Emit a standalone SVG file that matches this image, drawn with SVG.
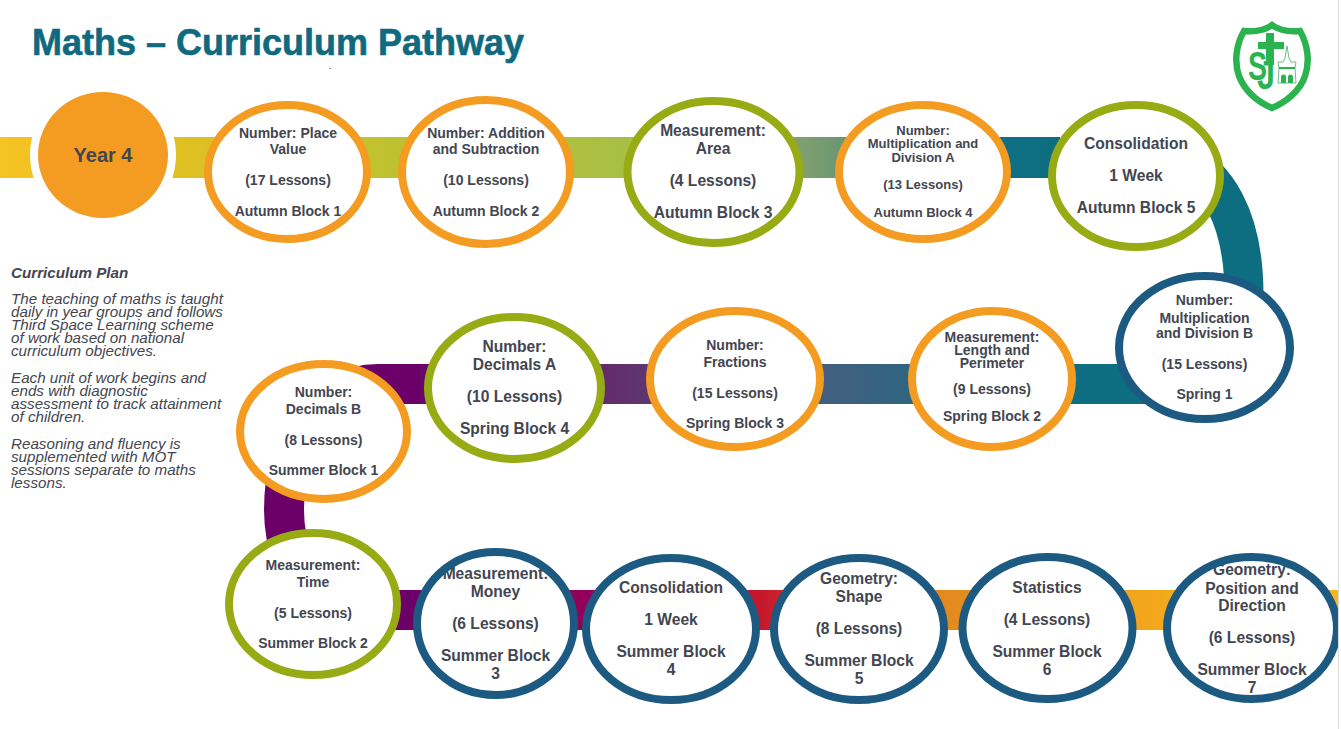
<svg xmlns="http://www.w3.org/2000/svg" width="1341" height="729" viewBox="0 0 1341 729">
<style>
.bg{fill:#fff}
.band{fill:none;stroke-width:40}
.hole{fill:#fff}
.ring{fill:none;stroke-width:8}
.o{stroke:#f39c21}
.g{stroke:#97ab14}
.b{stroke:#1d5a82}
text{font-family:"Liberation Sans",Arial,sans-serif;fill:#434650;font-weight:700;text-anchor:middle}
.s12{font-size:13px}
.s14{font-size:14px}
.s16{font-size:15.6px}
.plan{font-style:italic;font-weight:400;text-anchor:start;font-size:15.2px}
</style>
<defs>
<linearGradient id="g1" gradientUnits="userSpaceOnUse" x1="0" y1="0" x2="1060" y2="0">
<stop offset="0" stop-color="#f5c322"/><stop offset="0.2" stop-color="#dcc023"/><stop offset="0.4" stop-color="#b9c232"/><stop offset="0.6" stop-color="#a8bf45"/><stop offset="0.76" stop-color="#7e9f70"/><stop offset="0.95" stop-color="#0f6e83"/><stop offset="1" stop-color="#0d6e82"/>
</linearGradient>
<linearGradient id="g2" gradientUnits="userSpaceOnUse" x1="380" y1="0" x2="1130" y2="0">
<stop offset="0" stop-color="#6a0068"/><stop offset="0.3" stop-color="#642c6c"/><stop offset="0.6" stop-color="#41607f"/><stop offset="0.9" stop-color="#0d6e82"/><stop offset="1" stop-color="#0d6e82"/>
</linearGradient>
<linearGradient id="g3" gradientUnits="userSpaceOnUse" x1="400" y1="0" x2="1340" y2="0">
<stop offset="0" stop-color="#6a0068"/><stop offset="0.2" stop-color="#94005a"/><stop offset="0.38" stop-color="#c5152c"/><stop offset="0.58" stop-color="#e38a20"/><stop offset="0.85" stop-color="#f6ae1c"/><stop offset="1" stop-color="#f6b81c"/>
</linearGradient>
</defs>
<rect class="bg" width="1341" height="729"/>
<text x="32" y="55" style="font-size:36px;text-anchor:start;fill:#0f6a80;stroke:#0f6a80;stroke-width:.6">Maths – Curriculum Pathway</text>
<rect x="329" y="68" width="2" height="1" fill="#999"/>
<g id="logo">
<path d="M1272 25C1264 31 1252 32 1244 31C1236 45 1234 62 1239 76C1245 91 1258 102 1272 108C1286 102 1300 91 1305 76C1310 62 1308 45 1300 31C1292 32 1280 31 1272 25Z" fill="#fff" stroke="#2bb34f" stroke-width="6.500"/>
<rect x="1266" y="33" width="8" height="32" fill="#2bb34f"/><rect x="1258" y="42" width="26" height="7" fill="#2bb34f"/>
<text x="1248" y="80" textLength="19" lengthAdjust="spacingAndGlyphs" style="font-size:40px;fill:#2bb34f;text-anchor:start">S</text>
<text x="1257" y="89" textLength="18" lengthAdjust="spacingAndGlyphs" style="font-size:40px;fill:#2bb34f;text-anchor:start">J</text>
<path d="M1287 46L1289 58L1291 62L1296 62L1295 68L1296 83L1278 83L1279 68L1278 62L1283 62L1285 58Z" fill="#fff" stroke="#4aa86a" stroke-width=".8"/>
<path d="M1279 67H1295V69H1279ZM1281 83V77A2.500 2.500 0 0 1 1286 77V83ZM1288 83V77A2.500 2.500 0 0 1 1293 77V83Z" fill="#2bb34f"/>
</g>
<g id="connectors">
<path class="band" d="M0 157.500H1060" stroke="url(#g1)" style="stroke-width:41"/>
<path class="band" d="M1180 157.500C1215 175 1244 215 1244 295" stroke="#0d6e82" style="stroke-width:39"/>
<path class="band" d="M1165 384H380" stroke="url(#g2)"/>
<path class="band" d="M420 384H378C320 384 284 440 284 510C284 530 288 545 292 560" stroke="#6a0068"/>
<path class="band" d="M385 610H1340" stroke="url(#g3)"/>
</g>
<g id="year4"><circle cx="103" cy="155" r="73" fill="#fff"/><ellipse cx="103" cy="155" rx="65" ry="63" fill="#f39c21"/><text x="103" y="162" style="font-size:20px">Year 4</text></g>
<g id="autumn1"><ellipse class="hole" cx="287.500" cy="172" rx="79.500" ry="67"/><text class="s14"><tspan x="288" y="138">Number: Place</tspan><tspan x="288" y="154">Value</tspan><tspan x="288" y="185">(17 Lessons)</tspan><tspan x="288" y="216">Autumn Block 1</tspan></text><ellipse class="ring o" cx="287.500" cy="172" rx="79.500" ry="67"/></g>
<g id="autumn2"><ellipse class="hole" cx="486" cy="172" rx="84" ry="72"/><text class="s14"><tspan x="486" y="138">Number: Addition</tspan><tspan x="486" y="154">and Subtraction</tspan><tspan x="486" y="185">(10 Lessons)</tspan><tspan x="486" y="216">Autumn Block 2</tspan></text><ellipse class="ring o" cx="486" cy="172" rx="84" ry="72"/></g>
<g id="autumn3"><ellipse class="hole" cx="713.500" cy="172" rx="86" ry="71"/><text class="s16"><tspan x="713" y="136">Measurement:</tspan><tspan x="713" y="154">Area</tspan><tspan x="713" y="186">(4 Lessons)</tspan><tspan x="713" y="218">Autumn Block 3</tspan></text><ellipse class="ring g" cx="713.500" cy="172" rx="86" ry="71"/></g>
<g id="autumn4"><ellipse class="hole" cx="923" cy="172" rx="84" ry="67"/><text class="s12"><tspan x="923" y="135">Number:</tspan><tspan x="923" y="148">Multiplication and</tspan><tspan x="923" y="162">Division A</tspan><tspan x="923" y="189">(13 Lessons)</tspan><tspan x="923" y="217">Autumn Block 4</tspan></text><ellipse class="ring o" cx="923" cy="172" rx="84" ry="67"/></g>
<g id="autumn5"><ellipse class="hole" cx="1136" cy="176" rx="84" ry="71"/><text class="s16"><tspan x="1136" y="149">Consolidation</tspan><tspan x="1136" y="181">1 Week</tspan><tspan x="1136" y="213">Autumn Block 5</tspan></text><ellipse class="ring g" cx="1136" cy="176" rx="84" ry="71"/></g>
<g id="spring1"><ellipse class="hole" cx="1204.500" cy="347.500" rx="85.500" ry="71.500"/><text class="s14"><tspan x="1204.500" y="305">Number:</tspan><tspan x="1204.500" y="323">Multiplication</tspan><tspan x="1204.500" y="338">and Division B</tspan><tspan x="1204.500" y="369">(15 Lessons)</tspan><tspan x="1204.500" y="399">Spring 1</tspan></text><ellipse class="ring b" cx="1204.500" cy="347.500" rx="85.500" ry="71.500"/></g>
<g id="spring2"><ellipse class="hole" cx="992" cy="379" rx="80" ry="68"/><text class="s14"><tspan x="992" y="342">Measurement:</tspan><tspan x="992" y="355">Length and</tspan><tspan x="992" y="368">Perimeter</tspan><tspan x="992" y="394">(9 Lessons)</tspan><tspan x="992" y="421">Spring Block 2</tspan></text><ellipse class="ring o" cx="992" cy="379" rx="80" ry="68"/></g>
<g id="spring3"><ellipse class="hole" cx="735" cy="379" rx="85" ry="68"/><text class="s14"><tspan x="735" y="350">Number:</tspan><tspan x="735" y="367">Fractions</tspan><tspan x="735" y="398">(15 Lessons)</tspan><tspan x="735" y="428">Spring Block 3</tspan></text><ellipse class="ring o" cx="735" cy="379" rx="85" ry="68"/></g>
<g id="spring4"><ellipse class="hole" cx="514.500" cy="388" rx="86.500" ry="71"/><text class="s16"><tspan x="514.500" y="352">Number:</tspan><tspan x="514.500" y="370">Decimals A</tspan><tspan x="514.500" y="402">(10 Lessons)</tspan><tspan x="514.500" y="434">Spring Block 4</tspan></text><ellipse class="ring g" cx="514.500" cy="388" rx="86.500" ry="71"/></g>
<g id="summer1"><ellipse class="hole" cx="323.500" cy="431.500" rx="83.500" ry="67.500"/><text class="s14"><tspan x="323.500" y="397">Number:</tspan><tspan x="323.500" y="414">Decimals B</tspan><tspan x="323.500" y="445">(8 Lessons)</tspan><tspan x="323.500" y="475">Summer Block 1</tspan></text><ellipse class="ring o" cx="323.500" cy="431.500" rx="83.500" ry="67.500"/></g>
<g id="summer2"><ellipse class="hole" cx="313" cy="604" rx="84" ry="71"/><text class="s14"><tspan x="313" y="570">Measurement:</tspan><tspan x="313" y="587">Time</tspan><tspan x="313" y="618">(5 Lessons)</tspan><tspan x="313" y="648">Summer Block 2</tspan></text><ellipse class="ring g" cx="313" cy="604" rx="84" ry="71"/></g>
<g id="summer3"><ellipse class="hole" cx="495.500" cy="623.500" rx="78.500" ry="71.500"/><text class="s16"><tspan x="495.500" y="579">Measurement:</tspan><tspan x="495.500" y="597">Money</tspan><tspan x="495.500" y="629">(6 Lessons)</tspan><tspan x="495.500" y="661">Summer Block</tspan><tspan x="495.500" y="679">3</tspan></text><ellipse class="ring b" cx="495.500" cy="623.500" rx="78.500" ry="71.500"/></g>
<g id="summer4"><ellipse class="hole" cx="671" cy="629" rx="85" ry="71"/><text class="s16"><tspan x="671" y="593">Consolidation</tspan><tspan x="671" y="625">1 Week</tspan><tspan x="671" y="657">Summer Block</tspan><tspan x="671" y="675">4</tspan></text><ellipse class="ring b" cx="671" cy="629" rx="85" ry="71"/></g>
<g id="summer5"><ellipse class="hole" cx="859" cy="629" rx="85" ry="71"/><text class="s16"><tspan x="859" y="584">Geometry:</tspan><tspan x="859" y="602">Shape</tspan><tspan x="859" y="634">(8 Lessons)</tspan><tspan x="859" y="666">Summer Block</tspan><tspan x="859" y="684">5</tspan></text><ellipse class="ring b" cx="859" cy="629" rx="85" ry="71"/></g>
<g id="summer6"><ellipse class="hole" cx="1047.500" cy="628" rx="85" ry="71"/><text class="s16"><tspan x="1047" y="593">Statistics</tspan><tspan x="1047" y="625">(4 Lessons)</tspan><tspan x="1047" y="657">Summer Block</tspan><tspan x="1047" y="675">6</tspan></text><ellipse class="ring b" cx="1047.500" cy="628" rx="85" ry="71"/></g>
<g id="summer7"><ellipse class="hole" cx="1252" cy="628" rx="85" ry="71"/><text class="s16"><tspan x="1252" y="575">Geometry:</tspan><tspan x="1252" y="594">Position and</tspan><tspan x="1252" y="611">Direction</tspan><tspan x="1252" y="643">(6 Lessons)</tspan><tspan x="1252" y="675">Summer Block</tspan><tspan x="1252" y="693">7</tspan></text><ellipse class="ring b" cx="1252" cy="628" rx="85" ry="71"/></g>
<rect x="1338" y="0" width="3" height="729" fill="#fff"/>
<rect x="1338" y="0" width="1" height="729" fill="#dcdcdc"/>
<g id="plan">
<text x="11" y="277.500" style="font-size:15.200px;font-style:italic;text-anchor:start">Curriculum Plan</text>
<text class="plan"><tspan x="11" y="304">The teaching of maths is taught</tspan><tspan x="11" y="317">daily in year groups and follows</tspan><tspan x="11" y="330">Third Space Learning scheme</tspan><tspan x="11" y="343">of work based on national</tspan><tspan x="11" y="356">curriculum objectives.</tspan><tspan x="11" y="383">Each unit of work begins and</tspan><tspan x="11" y="396">ends with diagnostic</tspan><tspan x="11" y="409">assessment to track attainment</tspan><tspan x="11" y="422">of children.</tspan><tspan x="11" y="449">Reasoning and fluency is</tspan><tspan x="11" y="462">supplemented with MOT</tspan><tspan x="11" y="475">sessions separate to maths</tspan><tspan x="11" y="488">lessons.</tspan></text>
</g>
</svg>
